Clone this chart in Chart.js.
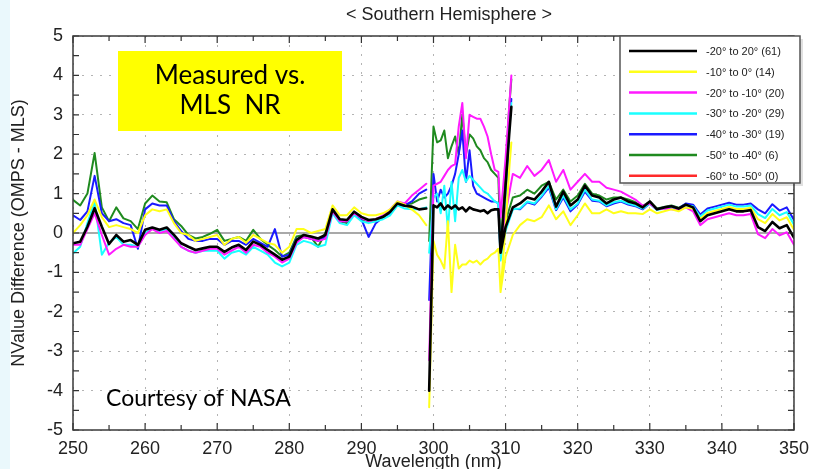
<!DOCTYPE html>
<html>
<head>
<meta charset="utf-8">
<title>Southern Hemisphere NValue difference</title>
<script src="https://cdn.jsdelivr.net/npm/chart.js@4.4.0/dist/chart.umd.min.js"></script>
<style>
  html, body { margin: 0; padding: 0; background: #fff; }
  #wrap { width: 817px; height: 469px; }
</style>
</head>
<body>
<div id="wrap"><canvas id="nvalue" width="817" height="469"></canvas></div>
<script>
// wavelength grid (nm); null separates the three channel segments
const wavelengths = [
  250, 251, 252, 253, 254, 255, 256, 257, 258, 259,
  260, 261, 262, 263, 264, 265, 266, 267, 268, 269,
  270, 271, 272, 273, 274, 275, 276, 277, 278, 279,
  280, 281, 282, 283, 284, 285, 286, 287, 288, 289,
  290, 291, 292, 293, 294, 295, 296, 297, 298, 299,
  null,
  299.4, 300, 300.5, 301, 301.5, 302, 302.5, 303, 303.5, 304, 304.5, 305,
  305.5, 306, 306.5, 307, 307.5, 308, 308.5, 309, 309.3, 310, 310.5, 310.8,
  null,
  309.3, 310,
  311, 312, 313, 314, 315, 316, 317, 318, 319, 320,
  321, 322, 323, 324, 325, 326, 327, 328, 329, 330,
  331, 332, 333, 334, 335, 336, 337, 338, 339, 340,
  341, 342, 343, 344, 345, 346, 347, 348, 349, 350
];

const bandNames = ['-20° to 20°', '-10° to 0°', '-20° to -10°', '-30° to -20°', '-40° to -30°', '-50° to -40°', '-60° to -50°'];
const profileCounts = [61, 14, 20, 29, 19, 6, 0];

const lat20Sto20N = [
  -0.26, -0.22, 0.16, 0.63, 0.16, -0.28, -0.05, -0.22, -0.18, -0.30,
  0.08, 0.14, 0.08, 0.14, -0.05, -0.26, -0.35, -0.43, -0.39, -0.35,
  -0.35, -0.48, -0.37, -0.30, -0.43, -0.22, -0.30, -0.43, -0.55, -0.68,
  -0.60, -0.18, -0.05, -0.09, -0.14, -0.05, 0.60, 0.35, 0.33, 0.54,
  0.41, 0.33, 0.35, 0.41, 0.54, 0.75, 0.69, 0.67, 0.60, 0.62,
  null,
  -4.00, 0.70, 0.65, 0.75, 0.60, 0.70, 0.62, 0.70, 0.60, 0.65, 0.55, 0.65,
  0.60, 0.58, 0.55, 0.58, 0.50, 0.58, 0.60, 0.60, -0.50, 1.20, 2.50, 3.20,
  null,
  -0.50, 0.15,
  0.65, 0.75, 0.90, 0.85, 1.05, 1.30, 0.67, 1.05, 0.70, 0.85,
  1.20, 0.95, 0.90, 0.75, 0.85, 0.90, 0.80, 0.75, 0.65, 0.80,
  0.60, 0.65, 0.68, 0.62, 0.72, 0.65, 0.30, 0.45, 0.50, 0.55,
  0.60, 0.55, 0.55, 0.58, 0.15, 0.05, 0.28, 0.12, 0.20, -0.12
];

const lat10Sto0 = [
  0.00, 0.20, 0.45, 0.85, 0.40, 0.15, 0.20, 0.15, 0.10, 0.00,
  0.45, 0.60, 0.55, 0.60, 0.25, 0.00, -0.05, -0.20, -0.15, -0.10,
  -0.05, -0.30, -0.15, -0.10, -0.25, -0.05, -0.15, -0.25, -0.30, -0.50,
  -0.35, 0.10, 0.10, 0.00, 0.05, 0.10, 0.70, 0.45, 0.45, 0.65,
  0.50, 0.45, 0.45, 0.50, 0.60, 0.80, 0.72, 0.60, 0.45, 0.20,
  null,
  -4.42, -0.20, -0.55, -0.70, -0.90, 0.30, -1.50, -0.30, -0.90, -0.80, -0.80, -0.70,
  -0.75, -0.70, -0.80, -0.70, -0.65, -0.55, -0.50, -0.40, -1.50, 0.20, 1.60, 2.30,
  null,
  -1.50, -0.60,
  -0.05, 0.20, 0.35, 0.30, 0.40, 0.70, 0.35, 0.55, 0.20, 0.45,
  0.75, 0.50, 0.50, 0.60, 0.50, 0.55, 0.50, 0.50, 0.48, 0.60,
  0.50, 0.55, 0.60, 0.55, 0.65, 0.62, 0.36, 0.51, 0.56, 0.61,
  0.66, 0.61, 0.61, 0.64, 0.35, 0.25, 0.48, 0.32, 0.40, 0.08
];

const lat20Sto10S = [
  -0.30, -0.30, 0.10, 0.50, -0.05, -0.55, -0.40, -0.30, -0.35, -0.35,
  -0.05, 0.10, 0.00, 0.05, -0.15, -0.35, -0.45, -0.50, -0.45, -0.40,
  -0.40, -0.55, -0.45, -0.35, -0.50, -0.30, -0.35, -0.50, -0.60, -0.75,
  -0.65, -0.25, -0.10, -0.15, -0.20, -0.15, 0.55, 0.30, 0.30, 0.50,
  0.38, 0.30, 0.35, 0.45, 0.60, 0.80, 0.75, 0.95, 1.10, 1.25,
  null,
  -3.23, 1.20, 1.25, 1.30, 1.45, 1.60, 1.70, 1.75, 2.70, 3.30, 1.90, 3.00,
  2.95, 2.90, 2.90, 2.70, 2.45, 2.00, 1.60, 1.55, 0.40, 1.90, 3.20, 4.00,
  null,
  -0.40, 0.50,
  1.50, 1.40, 1.70, 1.45, 1.60, 1.85, 1.30, 1.60, 1.10, 1.30,
  1.50, 1.30, 1.30, 1.15, 1.10, 1.05, 0.95, 0.85, 0.70, 0.75,
  0.60, 0.62, 0.60, 0.58, 0.65, 0.55, 0.20, 0.35, 0.40, 0.45,
  0.50, 0.45, 0.45, 0.48, -0.03, -0.13, 0.10, -0.06, 0.02, -0.30
];

const lat30Sto20S = [
  -0.52, -0.35, 0.25, 0.80, -0.55, -0.25, -0.10, -0.30, -0.30, -0.35,
  0.00, 0.12, 0.05, 0.10, -0.10, -0.35, -0.45, -0.50, -0.45, -0.45,
  -0.45, -0.65, -0.50, -0.45, -0.55, -0.35, -0.45, -0.55, -0.75, -0.85,
  -0.75, -0.30, -0.20, -0.25, -0.35, -0.30, 0.50, 0.25, 0.20, 0.45,
  0.30, 0.25, 0.30, 0.35, 0.45, 0.70, 0.62, 0.60, 0.60, 0.65,
  null,
  -0.50, 0.90, 1.00, 0.50, 1.20, 0.10, 1.30, 0.30, 1.40, 1.60, 1.30, 1.45,
  1.35, 1.25, 1.15, 1.05, 1.00, 0.90, 0.80, 0.75, -0.70, 0.90, 2.60, 3.30,
  null,
  -0.70, 0.05,
  0.60, 0.62, 0.80, 0.75, 0.95, 1.20, 0.60, 0.95, 0.60, 0.75,
  1.10, 0.85, 0.82, 0.70, 0.78, 0.82, 0.75, 0.70, 0.62, 0.75,
  0.58, 0.62, 0.65, 0.60, 0.70, 0.68, 0.42, 0.57, 0.62, 0.67,
  0.72, 0.67, 0.67, 0.70, 0.48, 0.38, 0.61, 0.45, 0.53, 0.21
];

const lat40Sto30S = [
  0.45, 0.33, 0.55, 1.45, 0.50, 0.30, 0.35, 0.25, 0.20, -0.40,
  0.60, 0.75, 0.70, 0.70, 0.30, 0.05, -0.15, -0.20, -0.20, -0.15,
  -0.15, -0.30, -0.20, -0.20, -0.30, -0.15, -0.25, -0.35, 0.10, -0.60,
  -0.55, -0.15, -0.10, -0.15, -0.20, -0.10, 0.55, 0.30, 0.30, 0.50,
  0.35, -0.10, 0.25, 0.40, 0.50, 0.70, 0.70, 0.80, 1.00, 1.10,
  null,
  -1.70, 1.50, 0.80, 1.10, 0.90, 1.00, 1.20, 1.50, 2.00, 2.60, 1.30, 2.10,
  1.20, 1.00, 0.95, 0.90, 0.85, 0.80, 0.80, 0.75, -0.60, 1.00, 2.70, 3.40,
  null,
  -0.60, 0.10,
  0.62, 0.60, 0.78, 0.72, 0.92, 1.15, 0.58, 0.90, 0.55, 0.72,
  1.05, 0.82, 0.80, 0.68, 0.75, 0.80, 0.72, 0.68, 0.60, 0.75,
  0.60, 0.65, 0.68, 0.62, 0.75, 0.72, 0.47, 0.62, 0.67, 0.72,
  0.77, 0.72, 0.72, 0.75, 0.60, 0.50, 0.73, 0.57, 0.65, 0.33
];

const lat50Sto40S = [
  0.84, 0.70, 1.00, 2.03, 0.65, 0.30, 0.65, 0.37, 0.30, 0.10,
  0.75, 0.95, 0.80, 0.78, 0.35, 0.18, -0.05, -0.14, -0.10, -0.02,
  0.08, -0.20, -0.15, -0.10, -0.20, 0.08, -0.15, -0.30, -0.43, -0.60,
  -0.50, -0.09, -0.05, -0.10, -0.35, 0.00, 0.55, 0.30, 0.25, 0.50,
  0.35, 0.30, 0.30, 0.40, 0.55, 0.75, 0.72, 0.75, 0.85, 0.90,
  null,
  -0.20, 2.70, 2.30, 2.35, 2.60, 1.90, 2.20, 2.45, 2.00, 3.00, 2.00, 2.50,
  2.40, 2.20, 2.10, 1.90, 1.80, 1.60, 1.50, 1.40, -0.40, 1.50, 3.20, 3.90,
  null,
  -0.45, 0.30,
  0.90, 0.95, 1.10, 1.00, 1.20, 1.30, 0.85, 1.10, 0.80, 0.95,
  1.25, 1.00, 0.95, 0.85, 0.90, 0.90, 0.85, 0.78, 0.68, 0.80,
  0.62, 0.66, 0.70, 0.64, 0.74, 0.66, null, null, null, null,
  null, null, null, null, null, null, null, null, null, null
];

// no profiles in this band
const lat60Sto50S = [];

const bandValues = [lat20Sto20N, lat10Sto0, lat20Sto10S, lat30Sto20S, lat40Sto30S, lat50Sto40S, lat60Sto50S];
const bandColors = ['#000000', '#ffff1a', '#ff1aff', '#1affff', '#1a1aff', '#1f8a1f', '#ff2a2a'];
const bandWidths = [2.6, 2, 2, 2, 2, 2, 2];

const datasets = bandValues.map((vals, i) => ({
  label: `${bandNames[i]} (${profileCounts[i]})`,
  data: vals.map((v, j) => ({ x: wavelengths[j], y: v })),
  borderColor: bandColors[i],
  backgroundColor: bandColors[i],
  borderWidth: bandWidths[i],
  pointRadius: 0,
  tension: 0,
  spanGaps: false,
  borderJoinStyle: 'round',
  borderCapStyle: 'round'
}));

const SANS = '"Liberation Sans", Arial, sans-serif';

const decorations = {
  id: 'decorations',
  beforeDraw(chart) {
    const { ctx, width, height } = chart;
    ctx.save();
    ctx.fillStyle = '#ffffff';
    ctx.fillRect(0, 0, width, height);
    ctx.fillStyle = '#eaf8fc';
    ctx.fillRect(0, 0, 10, height);
    ctx.restore();
  },
  beforeDatasetsDraw(chart) {
    const { ctx, chartArea: a, scales: { y } } = chart;
    const y0 = y.getPixelForValue(0);
    ctx.save();
    ctx.strokeStyle = '#a9a9a9';
    ctx.lineWidth = 2;
    ctx.beginPath();
    ctx.moveTo(a.left, y0);
    ctx.lineTo(a.right, y0);
    ctx.stroke();
    ctx.restore();
  },
  afterDraw(chart) {
    const { ctx, chartArea: a, scales: { x, y } } = chart;
    ctx.save();

    // inward ticks on all four sides
    ctx.strokeStyle = '#333';
    ctx.lineWidth = 1.2;
    ctx.beginPath();
    for (let v = 250; v <= 350; v += 5) {
      const px = x.getPixelForValue(v);
      const len = v % 10 === 0 ? 7 : 5;
      ctx.moveTo(px, a.bottom); ctx.lineTo(px, a.bottom - len);
      ctx.moveTo(px, a.top); ctx.lineTo(px, a.top + len);
    }
    for (let v = -5; v <= 5; v += 0.5) {
      const py = y.getPixelForValue(v);
      ctx.moveTo(a.left, py); ctx.lineTo(a.left + 6, py);
      ctx.moveTo(a.right, py); ctx.lineTo(a.right - 6, py);
    }
    ctx.stroke();

    // plot frame
    ctx.strokeStyle = '#3a3a3a';
    ctx.lineWidth = 1.5;
    ctx.strokeRect(a.left, a.top, a.right - a.left, a.bottom - a.top);

    // title and axis titles
    ctx.fillStyle = '#222';
    ctx.font = `18px ${SANS}`;
    ctx.textAlign = 'center';
    ctx.textBaseline = 'middle';
    ctx.fillText('< Southern Hemisphere >', 449, 15);
    ctx.fillText('Wavelength (nm)', (a.left + a.right) / 2, 462);
    ctx.save();
    ctx.translate(19, (a.top + a.bottom) / 2);
    ctx.rotate(-Math.PI / 2);
    ctx.fillText('NValue Difference (OMPS - MLS)', 0, 0);
    ctx.restore();

    // yellow caption box
    ctx.fillStyle = '#ffff00';
    ctx.fillRect(118, 51, 224, 80);
    ctx.fillStyle = '#000';
    ctx.font = '26px Lato, "Open Sans", sans-serif';
    ctx.fillText('Measured vs.', 230, 76);
    ctx.fillText('MLS  NR', 230, 106);

    ctx.textAlign = 'left';
    ctx.font = '23px Lato, "Open Sans", sans-serif';
    ctx.fillText('Courtesy of NASA', 106, 399);

    // legend
    const lx = 620, ly = 36, lw = 180, lh = 147;
    ctx.fillStyle = 'rgba(0,0,0,0.12)';
    ctx.fillRect(lx + 3, ly + 3, lw, lh);
    ctx.fillStyle = '#fff';
    ctx.fillRect(lx, ly, lw, lh);
    ctx.strokeStyle = '#555';
    ctx.lineWidth = 1.5;
    ctx.strokeRect(lx, ly, lw, lh);
    ctx.font = `11px ${SANS}`;
    ctx.textBaseline = 'middle';
    chart.data.datasets.forEach((ds, i) => {
      const ry = 51 + i * 20.8;
      ctx.strokeStyle = ds.borderColor;
      ctx.lineWidth = 2.5;
      ctx.beginPath();
      ctx.moveTo(629, ry);
      ctx.lineTo(697, ry);
      ctx.stroke();
      ctx.fillStyle = '#222';
      ctx.fillText(ds.label, 706, ry + 1);
    });

    ctx.restore();
  }
};

new Chart(document.getElementById('nvalue'), {
  type: 'line',
  data: { datasets },
  options: {
    responsive: false,
    animation: false,
    events: [],
    layout: { padding: { top: 36, right: 17, bottom: 0, left: 0 } },
    plugins: {
      legend: { display: false },
      tooltip: { enabled: false },
      title: { display: false }
    },
    scales: {
      x: {
        type: 'linear',
        min: 250,
        max: 350,
        afterFit: (s) => { s.height = 39; },
        ticks: {
          stepSize: 10,
          maxRotation: 0,
          padding: 8,
          color: '#222',
          font: { family: SANS, size: 18 }
        },
        grid: { color: '#b4b4b4', lineWidth: 1, drawTicks: false },
        border: { display: false, dash: [2, 7] }
      },
      y: {
        min: -5,
        max: 5,
        afterFit: (s) => { s.width = 73; },
        ticks: {
          stepSize: 1,
          padding: 10,
          color: '#222',
          font: { family: SANS, size: 18 }
        },
        grid: { color: '#b4b4b4', lineWidth: 1, drawTicks: false },
        border: { display: false, dash: [2, 7] }
      }
    }
  },
  plugins: [decorations]
});
</script>
</body>
</html>
